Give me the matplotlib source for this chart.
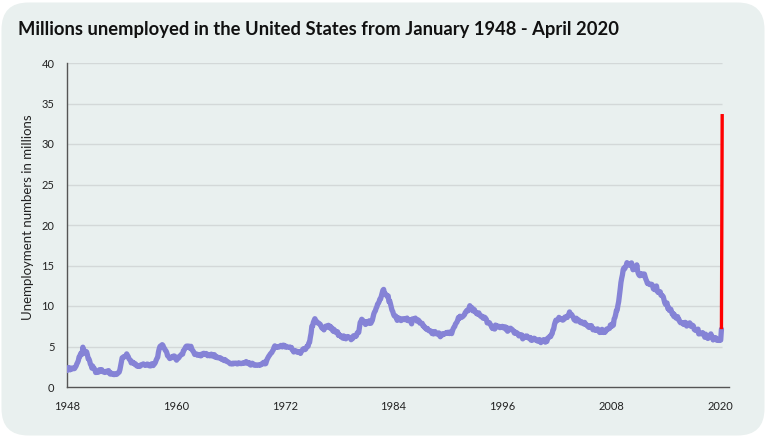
import numpy as np
import matplotlib
matplotlib.use("Agg")
import matplotlib.pyplot as plt
from matplotlib.patches import FancyBboxPatch

# Monthly unemployment level (thousands), by decade
u_1948_1959 = [
    2034, 2328, 2399, 2386, 2118, 2214, 2213, 2350, 2302, 2259, 2285, 2429,
    2596, 2849, 3030, 3260, 3707, 3776, 4111, 4193, 4049, 4916, 4209, 4228,
    4367, 4400, 4321, 3967, 3493, 3458, 3199, 2814, 2689, 2325, 2578, 2329,
    2288, 2091, 1787, 1806, 1865, 1829, 1845, 2137, 2042, 2029, 2135, 1909,
    1867, 1835, 1796, 1823, 1939, 1908, 1947, 2022, 1741, 1601, 1749, 1631,
    1615, 1619, 1527, 1544, 1622, 1541, 1581, 1668, 1785, 1831, 2130, 2629,
    3088, 3603, 3659, 3741, 3723, 3764, 3879, 4089, 3898, 3750, 3489, 3372,
    3300, 2973, 3111, 3045, 2927, 2944, 2772, 2820, 2643, 2563, 2610, 2557,
    2540, 2589, 2745, 2757, 2796, 2852, 2742, 2747, 2666, 2747, 2830, 2811,
    2712, 2617, 2677, 2612, 2863, 2867, 2643, 2791, 2879, 3048, 3321, 3520,
    3680, 4301, 4703, 5003, 5081, 5134, 5226, 5124, 4854, 4744, 4536, 4457,
    4245, 3872, 3803, 3648, 3511, 3557, 3648, 3716, 3637, 3823, 3826, 3714,
]
u_1960_1969 = [
    3453, 3312, 3667, 3547, 3603, 3779, 3877, 3995, 4059, 4059, 4479, 4553,
    4756, 4931, 5042, 4985, 5032, 5053, 4825, 4796, 5024, 4733, 4510, 4430,
    4211, 4014, 4033, 3995, 4060, 3922, 3964, 4004, 3883, 3840, 4056, 4061,
    3983, 4166, 4086, 4031, 4138, 4085, 3864, 3978, 3920, 3849, 3969, 4055,
    3839, 3819, 3841, 3994, 3686, 3779, 3749, 3611, 3629, 3634, 3585, 3600,
    3497, 3393, 3393, 3413, 3262, 3380, 3270, 3176, 3164, 3086, 3038, 2962,
    2864, 2871, 2914, 2850, 2938, 2887, 2914, 2947, 2914, 2850, 2942, 2884,
    2968, 2915, 2889, 2895, 2929, 2992, 2944, 2945, 2958, 3143, 3066, 3018,
    2878, 3001, 2877, 2709, 2740, 2938, 2883, 2768, 2686, 2689, 2715, 2685,
    2718, 2692, 2712, 2758, 2713, 2816, 2868, 2856, 3040, 3049, 2856, 2884,
]
u_1970_1979 = [
    3201, 3453, 3635, 3797, 3919, 4071, 4175, 4256, 4456, 4591, 4898, 5076,
    4986, 4903, 4987, 4959, 4996, 4949, 5035, 5134, 5042, 4954, 5161, 5154,
    5019, 4928, 5038, 4959, 4922, 4923, 4913, 4939, 4849, 4875, 4602, 4543,
    4326, 4452, 4394, 4459, 4329, 4363, 4305, 4305, 4350, 4144, 4396, 4489,
    4644, 4731, 4634, 4618, 4705, 4927, 5063, 5022, 5437, 5523, 6140, 6636,
    7501, 7520, 7978, 8210, 8433, 8220, 8127, 7928, 7923, 7897, 7794, 7744,
    7534, 7326, 7230, 7330, 7053, 7322, 7490, 7518, 7380, 7430, 7620, 7545,
    7280, 7443, 7307, 7059, 6911, 7134, 6829, 6925, 6751, 6763, 6815, 6386,
    6489, 6318, 6337, 6180, 6127, 6028, 6309, 6080, 6125, 5947, 6077, 6228,
    6109, 6173, 6109, 6069, 5840, 5959, 5996, 6320, 6190, 6296, 6238, 6325,
]
u_1980_1989 = [
    6683, 6702, 6729, 7358, 7984, 8098, 8363, 8281, 8021, 8088, 8023, 7718,
    8071, 8051, 7982, 7869, 8174, 8098, 7863, 8036, 8230, 8646, 9029, 9267,
    9397, 9705, 9895, 10244, 10335, 10538, 10849, 10881, 11217, 11529, 11938, 12051,
    11534, 11545, 11408, 11268, 11154, 11246, 10548, 10623, 10282, 9887, 9499, 9331,
    9008, 8791, 8746, 8762, 8456, 8226, 8537, 8519, 8367, 8381, 8198, 8358,
    8423, 8321, 8339, 8395, 8302, 8460, 8513, 8196, 8248, 8298, 8128, 8138,
    7795, 8402, 8383, 8364, 8439, 8508, 8319, 8135, 8310, 8243, 8159, 7883,
    7892, 7865, 7862, 7542, 7574, 7398, 7268, 7261, 7102, 7227, 7035, 6936,
    6953, 6929, 6876, 6601, 6779, 6546, 6605, 6843, 6604, 6568, 6537, 6518,
    6682, 6359, 6205, 6468, 6375, 6577, 6495, 6511, 6590, 6630, 6725, 6667,
]
u_1990_1999 = [
    6752, 6651, 6598, 6797, 6742, 6590, 6922, 7188, 7368, 7459, 7764, 7901,
    8015, 8265, 8586, 8439, 8736, 8692, 8586, 8666, 8722, 8842, 8931, 9198,
    9283, 9454, 9460, 9415, 9744, 10040, 9850, 9787, 9781, 9398, 9565, 9557,
    9325, 9183, 9056, 9110, 8977, 9149, 8930, 8763, 8714, 8750, 8542, 8477,
    8630, 8583, 8470, 8331, 7915, 7927, 7946, 7933, 7734, 7632, 7375, 7230,
    7375, 7187, 7153, 7645, 7430, 7427, 7527, 7484, 7478, 7328, 7426, 7423,
    7491, 7313, 7318, 7415, 7423, 7095, 7337, 6882, 6979, 7031, 7236, 7253,
    7158, 7102, 7000, 6873, 6655, 6799, 6655, 6608, 6656, 6454, 6308, 6476,
    6368, 6306, 6422, 5941, 6047, 6212, 6259, 6179, 6300, 6280, 6100, 6032,
    5976, 6111, 5783, 6004, 5796, 5951, 6025, 5838, 5915, 5778, 5716, 5653,
]
u_2000_2009 = [
    5708, 5858, 5733, 5481, 5758, 5651, 5747, 5853, 5625, 5534, 5639, 5634,
    6023, 6089, 6141, 6271, 6226, 6484, 6583, 7042, 7142, 7694, 8003, 8258,
    8182, 8215, 8304, 8599, 8399, 8393, 8390, 8304, 8251, 8307, 8520, 8640,
    8520, 8618, 8588, 8842, 8957, 9266, 9011, 8896, 8921, 8732, 8576, 8317,
    8370, 8167, 8491, 8170, 8212, 8286, 8136, 7990, 7927, 8061, 7932, 7934,
    7784, 7980, 7737, 7672, 7651, 7524, 7406, 7345, 7553, 7453, 7566, 7279,
    7064, 7184, 7072, 7120, 6980, 7001, 7175, 7091, 6847, 6727, 6872, 6762,
    7116, 6927, 6731, 6850, 6766, 6979, 7149, 7067, 7170, 7237, 7240, 7645,
    7685, 7497, 7822, 7637, 8395, 8575, 8937, 9438, 9494, 10074, 10538, 11286,
    12058, 12898, 13426, 13853, 14499, 14707, 14601, 14814, 15009, 15352, 15219, 15098,
]
u_2010_2020 = [
    15046, 15113, 15202, 15325, 14849, 14474, 14512, 14648, 14579, 14516, 15081, 14348,
    14013, 13820, 13737, 13957, 13855, 13962, 13763, 13818, 13948, 13594, 13302, 13093,
    12797, 12813, 12713, 12646, 12660, 12692, 12656, 12471, 12115, 12124, 12005, 12298,
    12471, 11950, 11689, 11760, 11654, 11751, 11335, 11279, 11270, 11136, 10787, 10404,
    10202, 10349, 10380, 9702, 9859, 9460, 9608, 9599, 9262, 8990, 9090, 8717,
    8903, 8610, 8504, 8526, 8689, 8331, 8298, 8035, 7925, 7940, 7933, 7945,
    7726, 7735, 7985, 7929, 7524, 7819, 7799, 7852, 7917, 7748, 7476, 7507,
    7615, 7510, 7106, 7037, 6974, 6974, 6996, 7143, 6548, 6578, 6624, 6577,
    6583, 6714, 6548, 6442, 6139, 6521, 6258, 6140, 5992, 6151, 6108, 6361,
    6558, 6263, 6211, 5810, 5922, 5968, 6102, 6008, 5768, 5869, 5811, 5747,
    5892, 5787, 7140,
]
april_2020 = 33700  # highlighted final month (thousands)

start_year = 1948
x_ticks = [1948, 1960, 1972, 1984, 1996, 2008, 2020]
y_ticks = [0, 5, 10, 15, 20, 25, 30, 35, 40]

title = "Millions unemployed in the United States from January 1948 - April 2020"
y_label = "Unemployment numbers in millions"

monthly = np.array(u_1948_1959 + u_1960_1969 + u_1970_1979 + u_1980_1989
                   + u_1990_1999 + u_2000_2009 + u_2010_2020) / 1000.0
t = start_year + np.arange(len(monthly)) / 12.0
t_red = [t[-1], start_year + len(monthly) / 12.0]
v_red = [monthly[-1], april_2020 / 1000.0]

W, H = 768, 437
fig = plt.figure(figsize=(W / 100, H / 100), dpi=100)
fig.patch.set_facecolor("white")

bg = FancyBboxPatch((1.5 / W, 1.5 / H), (W - 5) / W, (H - 4) / H,
                    boxstyle="round,pad=0,rounding_size=0.035",
                    transform=fig.transFigure, facecolor="#e9f0ef",
                    edgecolor="none", mutation_aspect=W / H, zorder=-10)
fig.patches.append(bg)

ax = fig.add_axes([67 / W, 50 / H, 662 / W, 324 / H])
ax.set_zorder(5)
ax.set_facecolor("none")
ax.set_xlim(1948, 2021)
ax.set_ylim(0, 40)

ax.hlines(y_ticks[1:], 1948, 2020.2, color="#d3d8d8", lw=1.0, zorder=1)

ax.plot(t, monthly, color="#8583d6", lw=3.8, solid_capstyle="round",
        solid_joinstyle="round", zorder=3)
ax.plot(t_red, v_red, color="#ff0000", lw=2.4, solid_capstyle="butt", zorder=4)

for s in ["top", "right"]:
    ax.spines[s].set_visible(False)
for s in ["left", "bottom"]:
    ax.spines[s].set_color("#555555")
    ax.spines[s].set_linewidth(1.0)

ax.set_xticks(x_ticks)
ax.set_xticklabels([str(v) for v in x_ticks])
ax.set_yticks(y_ticks)
ax.set_yticklabels([str(v) for v in y_ticks])
ax.tick_params(axis="both", length=0, labelsize=8, labelcolor="#222222",
               colors="#222222")
ax.tick_params(axis="x", pad=10)
ax.tick_params(axis="y", pad=9)
for lab in ax.get_xticklabels() + ax.get_yticklabels():
    lab.set_fontfamily("Lato")

ax.set_ylabel(y_label, fontsize=9.5, fontfamily="Lato", color="#222222",
              va="center")
ax.yaxis.set_label_coords(-0.059, 0.525)

fig.text(18 / W, 1 - 30 / H, title, fontsize=13.2, fontweight="bold",
         fontfamily="Lato", color="#111111", va="center", ha="left")

fig.savefig("out.png", dpi=100, facecolor="white")
